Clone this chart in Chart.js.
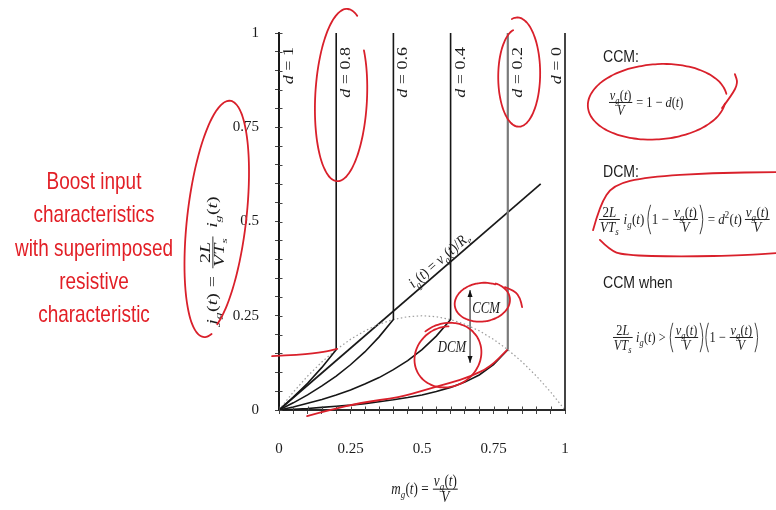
<!DOCTYPE html>
<html><head><meta charset="utf-8">
<script src="https://cdn.jsdelivr.net/npm/chart.js@4.4.1/dist/chart.umd.min.js"></script>
<style>html,body{margin:0;padding:0;background:#fff;overflow:hidden}canvas{display:block}</style>
</head><body>
<canvas id="c" width="776" height="510"></canvas>
<script>
// ---------- data ----------
const mGrid = [0, 0.05, 0.1, 0.15, 0.2, 0.25, 0.3, 0.35, 0.4, 0.45, 0.5, 0.55, 0.6, 0.65, 0.7, 0.75, 0.8, 0.85, 0.9, 0.95, 1];
const dutyCycles = [1, 0.8, 0.6, 0.4, 0.2, 0];
const dutyLabels = ['d = 1', 'd = 0.8', 'd = 0.6', 'd = 0.4', 'd = 0.2', 'd = 0'];
const jD1  = [0];
const jD08 = [0, 0.034, 0.071, 0.113, 0.16];
const jD06 = [0, 0.019, 0.04, 0.064, 0.09, 0.12, 0.154, 0.194, 0.24];
const jD04 = [0, 0.008, 0.018, 0.028, 0.04, 0.053, 0.069, 0.086, 0.107, 0.131, 0.16, 0.196, 0.24];
const jD02 = [0, 0.002, 0.004, 0.007, 0.01, 0.013, 0.017, 0.022, 0.027, 0.033, 0.04, 0.049, 0.06, 0.074, 0.093, 0.12, 0.16];
const jD0  = [0];
const jBoundary = [0, 0.0475, 0.09, 0.1275, 0.16, 0.1875, 0.21, 0.2275, 0.24, 0.2475, 0.25, 0.2475, 0.24, 0.2275, 0.21, 0.1875, 0.16, 0.1275, 0.09, 0.0475, 0];
const resistiveM = [0, 0.915];
const resistiveJ = [0, 0.6];
const tickLabels = ['0', '0.25', '0.5', '0.75', '1'];
const modeArrowM = 0.668;
const modeArrowJ = [0.222, 0.318, 0.125]; // start on boundary, CCM tip, DCM tip
const leftNote = ['Boost input', 'characteristics', 'with superimposed', 'resistive', 'characteristic'];

// hand-drawn red annotations, in chart units (m, j)
const redLoops = [
  {m:0.2203, j:0.8276, rm:0.0979, rj:0.2387, rot:3,   t0:-67,  t1:-398, k0:1.0,  k1:0.88},
  {m:0.8357, j:0.8886, rm:0.0822, rj:0.1538, rot:0,   t0:-105, t1:255,  k0:1.0,  k1:0.8},
  {m:-0.2168,j:0.5093, rm:0.1049, rj:0.3183, rot:6.5, t0:65,   t1:-285, k0:0.97, k1:1.0},
  {m:0.7098, j:0.2865, rm:0.0944, rj:0.0504, rot:-8,  t0:-55,  t1:-415, k0:1.0,  k1:1.05},
  {m:0.5874, j:0.1432, rm:0.1259, rj:0.0849, rot:-30, t0:-100, t1:300,  k0:1.02, k1:0.9},
  {m:1.3217, j:0.8170, rm:0.2448, rj:0.1008, rot:-4,  t0:10,   t1:355,  k0:0.98, k1:1.0}
];
const redStrokes = [
  [[0.790,0.326],[0.825,0.316],[0.843,0.297],[0.850,0.273]],
  [[1.549,0.801],[1.584,0.836],[1.605,0.867],[1.594,0.891]],
  [[-0.024,0.143],[0.073,0.146],[0.161,0.154],[0.203,0.162]],
  [[0.098,-0.016],[0.178,0.0],[0.283,0.019],[0.423,0.034],[0.510,0.053],[0.598,0.072],[0.668,0.088],[0.738,0.114],[0.797,0.159]],
  [[1.098,0.477],[1.122,0.544],[1.168,0.597],[1.287,0.618],[1.517,0.629],[1.738,0.631]],
  [[1.122,0.451],[1.157,0.424],[1.203,0.411],[1.402,0.406],[1.636,0.411],[1.738,0.416]]
];

// ---------- datasets ----------
const curveJ = [jD1, jD08, jD06, jD04, jD02, jD0];
const datasets = [];
dutyCycles.forEach((d, i) => {
  const js = curveJ[i];
  const endIdx = Math.round((1 - d) * 20);
  const off = endIdx - (js.length - 1);
  const pts = js.map((j, k) => ({x: mGrid[k + off], y: j}));
  pts.push({x: mGrid[endIdx], y: 1});
  const ds = {label: dutyLabels[i], data: pts, borderColor: '#161616', borderWidth: 1.6, pointRadius: 0, fill: false, clip: false, tension: 0};
  if (d === 0.2) ds.segment = {borderColor: c => c.p0.parsed.x === c.p1.parsed.x ? '#7a7a7a' : '#161616', borderWidth: c => c.p0.parsed.x === c.p1.parsed.x ? 2.2 : 1.6};
  datasets.push(ds);
});
datasets.push({label: 'boundary', data: jBoundary.map((j, k) => ({x: mGrid[k], y: j})), borderColor: '#9a9a9a', borderWidth: 1.2, borderDash: [1.5, 2.5], pointRadius: 0, clip: false});
datasets.push({label: 'resistive', data: resistiveM.map((m, k) => ({x: m, y: resistiveJ[k]})), borderColor: '#1a1a1a', borderWidth: 1.7, pointRadius: 0, clip: false});

// ---------- math text helper ----------
const SERIF = '"Liberation Serif", "Times New Roman", serif';
const I = s => ['i', s], R = s => ['r', s], SUB = s => ['sub', s], SUP = s => ['sup', s];
const FR = (a, b) => ['frac', a, b], P = a => ['paren', a], SP = k => ['sp', k];
function mrun(ctx, toks, x, y, S, draw) {
  let w = 0;
  for (const t of toks) {
    const k = t[0];
    if (k === 'i' || k === 'r') {
      ctx.font = (k === 'i' ? 'italic ' : '') + S + 'px ' + SERIF;
      if (draw) ctx.fillText(t[1], x + w, y);
      w += ctx.measureText(t[1]).width;
    } else if (k === 'sub' || k === 'sup') {
      const s = S * 0.68;
      ctx.font = (k === 'sub' ? 'italic ' : '') + s + 'px ' + SERIF;
      const dy = k === 'sub' ? 0.26 * S : -0.42 * S;
      if (draw) ctx.fillText(t[1], x + w, y + dy);
      w += ctx.measureText(t[1]).width + 0.4;
    } else if (k === 'frac') {
      const nw = mrun(ctx, t[1], 0, 0, S, false), dw = mrun(ctx, t[2], 0, 0, S, false);
      const fw = Math.max(nw, dw) + 0.3 * S;
      if (draw) {
        const axis = y - 0.3 * S;
        mrun(ctx, t[1], x + w + (fw - nw) / 2, axis - 0.18 * S, S, true);
        mrun(ctx, t[2], x + w + (fw - dw) / 2, axis + 0.8 * S, S, true);
        ctx.fillRect(x + w + 0.08 * S, axis - 0.035 * S, fw - 0.16 * S, Math.max(0.8, 0.065 * S));
      }
      w += fw;
    } else if (k === 'paren') {
      const pw = 0.42 * S;
      const iw = mrun(ctx, t[1], 0, 0, S, false);
      if (draw) {
        const axis = y - 0.3 * S, h = 0.98 * S;
        ctx.lineWidth = Math.max(0.8, 0.06 * S);
        const xl = x + w, xr = x + w + iw + 2 * pw;
        ctx.beginPath(); ctx.moveTo(xl + pw * 0.8, axis - h); ctx.quadraticCurveTo(xl - pw * 0.2, axis, xl + pw * 0.8, axis + h); ctx.stroke();
        ctx.beginPath(); ctx.moveTo(xr - pw * 0.8, axis - h); ctx.quadraticCurveTo(xr + pw * 0.2, axis, xr - pw * 0.8, axis + h); ctx.stroke();
        mrun(ctx, t[1], x + w + pw, y, S, true);
      }
      w += iw + 2 * pw;
    } else if (k === 'sp') {
      w += t[1] * S;
    }
  }
  return w;
}
function mathAt(ctx, toks, x, y, S, o) {
  o = o || {};
  ctx.save();
  ctx.translate(x, y); ctx.rotate(o.rot || 0); ctx.scale(o.sx || 1, o.sy || 1);
  ctx.textAlign = 'left'; ctx.textBaseline = 'alphabetic';
  ctx.fillStyle = o.color || '#1c1c1c'; ctx.strokeStyle = o.color || '#1c1c1c';
  const w = mrun(ctx, toks, 0, 0, S, false);
  const x0 = o.align === 'center' ? -w / 2 : (o.align === 'right' ? -w : 0);
  mrun(ctx, toks, x0, 0, S, true);
  ctx.restore();
}
function plainAt(ctx, str, x, y, font, o) {
  o = o || {};
  ctx.save(); ctx.translate(x, y); ctx.rotate(o.rot || 0); ctx.scale(o.sx || 1, o.sy || 1);
  ctx.font = font; ctx.fillStyle = o.color || '#1c1c1c'; ctx.textAlign = o.align || 'left'; ctx.textBaseline = 'alphabetic';
  ctx.fillText(str, 0, 0); ctx.restore();
}

const vgt = [I('v'), SUB('g'), R('('), I('t'), R(')')];
const igt = [I('i'), SUB('g'), R('('), I('t'), R(')')];
const jgt = [I('j'), SUB('g'), R('('), I('t'), R(')')];
const mgt = [I('m'), SUB('g'), R('('), I('t'), R(')')];
const twoL = [R('2'), I('L')];
const VTs = [I('V'), I('T'), SUB('s')];
const fracVg = FR(vgt, [I('V')]);
const eqCCM = [fracVg, R(' = 1 − '), I('d'), R('('), I('t'), R(')')];
const eqDCM = [FR(twoL, VTs), SP(0.2), ...igt, SP(0.15), P([R('1 − '), fracVg]), R(' = '), I('d'), SUP('2'), R('('), I('t'), R(')'), SP(0.15), fracVg];
const eqCCMwhen = [FR(twoL, VTs), SP(0.2), ...igt, R(' > '), P([fracVg]), P([R('1 − '), fracVg])];
const yTitle = [...jgt, SP(0.3), R('='), SP(0.3), FR(twoL, VTs), SP(0.35), ...igt];
const xTitle = [...mgt, R(' = '), fracVg];
const resLabel = [...igt, R(' = '), ...vgt, R('/'), I('R'), SUB('e')];

// ---------- plugin ----------
function px(ch, m, j) { return [ch.scales.x.getPixelForValue(m), ch.scales.y.getPixelForValue(j)]; }
function smooth(ctx, pts) {
  ctx.beginPath(); ctx.moveTo(pts[0][0], pts[0][1]);
  for (let i = 1; i < pts.length - 1; i++) {
    const mx = (pts[i][0] + pts[i + 1][0]) / 2, my = (pts[i][1] + pts[i + 1][1]) / 2;
    ctx.quadraticCurveTo(pts[i][0], pts[i][1], mx, my);
  }
  const l = pts[pts.length - 1]; ctx.lineTo(l[0], l[1]); ctx.stroke();
}
function loopPts(ch, e) {
  const [cx, cy] = px(ch, e.m, e.j);
  const rx = Math.abs(ch.scales.x.getPixelForValue(e.m + e.rm) - cx);
  const ry = Math.abs(ch.scales.y.getPixelForValue(e.j + e.rj) - cy);
  const r = e.rot * Math.PI / 180, pts = [], n = 90;
  for (let i = 0; i <= n; i++) {
    const u = i / n, t = (e.t0 + (e.t1 - e.t0) * u) * Math.PI / 180, k = e.k0 + (e.k1 - e.k0) * u;
    const lx = rx * k * Math.cos(t), ly = ry * k * Math.sin(t);
    pts.push([cx + lx * Math.cos(r) - ly * Math.sin(r), cy + lx * Math.sin(r) + ly * Math.cos(r)]);
  }
  return pts;
}
function arrow(ctx, x, y0, y1) {
  ctx.beginPath(); ctx.moveTo(x, y0); ctx.lineTo(x, y1); ctx.stroke();
  const s = y1 < y0 ? 1 : -1;
  ctx.beginPath(); ctx.moveTo(x, y1); ctx.lineTo(x - 2.5, y1 + s * 7); ctx.lineTo(x + 2.5, y1 + s * 7); ctx.closePath(); ctx.fill();
}

const decor = {
  id: 'decor',
  afterDatasetsDraw(ch) {
    const ctx = ch.ctx, xs = ch.scales.x, ys = ch.scales.y, ca = ch.chartArea;
    // inward halves of the tick marks
    ctx.save(); ctx.strokeStyle = '#444'; ctx.lineWidth = 1;
    xs.ticks.forEach(t => { const p = Math.round(xs.getPixelForValue(t.value)) + 0.5; ctx.beginPath(); ctx.moveTo(p, ca.bottom); ctx.lineTo(p, ca.bottom - 3.5); ctx.stroke(); });
    ys.ticks.forEach(t => { const p = Math.round(ys.getPixelForValue(t.value)) + 0.5; ctx.beginPath(); ctx.moveTo(ca.left, p); ctx.lineTo(ca.left + 3.5, p); ctx.stroke(); });
    ctx.restore();
    // duty-cycle labels
    dutyCycles.forEach((d, i) => {
      const lx = xs.getPixelForValue(1 - d) + (d === 0 ? -4 : 14);
      const toks = [I('d'), R(' = ' + dutyLabels[i].split('= ')[1])];
      mathAt(ctx, toks, lx, ca.top + 14, 18, {rot: -Math.PI / 2, sy: 0.78, align: 'right'});
    });
    // resistive label along the line
    const p0 = px(ch, resistiveM[0], resistiveJ[0]), p1 = px(ch, resistiveM[1], resistiveJ[1]);
    const ang = Math.atan2(p1[1] - p0[1], p1[0] - p0[0]);
    const mid = px(ch, 0.58, 0.58 * resistiveJ[1] / resistiveM[1]);
    mathAt(ctx, resLabel, mid[0] + 4 * Math.sin(ang), mid[1] - 4 * Math.cos(ang), 15, {rot: ang, sx: 0.9, align: 'center'});
    // CCM / DCM arrows
    ctx.save(); ctx.strokeStyle = '#111'; ctx.fillStyle = '#111'; ctx.lineWidth = 1;
    const ax = xs.getPixelForValue(modeArrowM);
    arrow(ctx, ax, ys.getPixelForValue(modeArrowJ[0]), ys.getPixelForValue(modeArrowJ[1]));
    arrow(ctx, ax, ys.getPixelForValue(modeArrowJ[0]), ys.getPixelForValue(modeArrowJ[2]));
    ctx.restore();
    const c1 = px(ch, 0.724, 0.257), c2 = px(ch, 0.605, 0.155);
    plainAt(ctx, 'CCM', c1[0], c1[1], 'italic 16px ' + SERIF, {sx: 0.8, align: 'center'});
    plainAt(ctx, 'DCM', c2[0], c2[1], 'italic 16px ' + SERIF, {sx: 0.8, align: 'center'});
  },
  afterDraw(ch) {
    const ctx = ch.ctx, ca = ch.chartArea;
    // axis titles
    mathAt(ctx, yTitle, ca.left - 62, (ca.top + ca.bottom) / 2 + 39, 20, {rot: -Math.PI / 2, sy: 0.68, align: 'center'});
    mathAt(ctx, xTitle, (ca.left + ca.right) / 2 + 3, ca.bottom + 84, 16, {sx: 0.82, align: 'center'});
    // left red note
    leftNote.forEach((s, i) => plainAt(ctx, s, 94, 189 + i * 33.3, '24px "Liberation Sans", Arial, sans-serif', {sx: 0.79, align: 'center', color: '#e21f26'}));
    // right side
    const rx = ca.right + 38;
    plainAt(ctx, 'CCM:', rx, 62, '16px "Liberation Sans", Arial, sans-serif', {sx: 0.88});
    mathAt(ctx, eqCCM, rx + 5, 107, 15, {sx: 0.82});
    plainAt(ctx, 'DCM:', rx, 177, '16px "Liberation Sans", Arial, sans-serif', {sx: 0.88});
    mathAt(ctx, eqDCM, rx - 5, 224, 15, {sx: 0.87});
    plainAt(ctx, 'CCM when', rx, 288, '16px "Liberation Sans", Arial, sans-serif', {sx: 0.88});
    mathAt(ctx, eqCCMwhen, rx + 9, 342, 15, {sx: 0.82});
    // red hand annotations
    ctx.save(); ctx.strokeStyle = '#d9202b'; ctx.lineWidth = 1.8; ctx.lineCap = 'round'; ctx.lineJoin = 'round';
    redLoops.forEach(e => smooth(ctx, loopPts(ch, e)));
    redStrokes.forEach(s => smooth(ctx, s.map(p => px(ch, p[0], p[1]))));
    ctx.restore();
  }
};

const tickCb = v => { const k = Math.round(v * 4); return Math.abs(v - k / 4) < 1e-6 ? tickLabels[k] : ''; };
new Chart(document.getElementById('c'), {
  type: 'line',
  data: {datasets},
  options: {
    responsive: false, animation: false, devicePixelRatio: 1, events: [],
    parsing: true,
    layout: {padding: {left: 219, right: 211, top: 33, bottom: 40}},
    plugins: {legend: {display: false}, tooltip: {enabled: false}},
    scales: {
      x: {type: 'linear', min: 0, max: 1, afterFit: s => { s.height = 60; },
        border: {display: true, color: '#2a2a2a', width: 2},
        grid: {display: true, drawOnChartArea: false, drawTicks: true, tickLength: 4, color: '#444', lineWidth: 1},
        ticks: {stepSize: 0.05, autoSkip: false, maxRotation: 0, minRotation: 0, padding: 26, color: '#1c1c1c', font: {family: '"Liberation Serif", serif', size: 15}, callback: tickCb}},
      y: {type: 'linear', min: 0, max: 1, afterFit: s => { s.width = 60; },
        border: {display: true, color: '#2a2a2a', width: 2},
        grid: {display: true, drawOnChartArea: false, drawTicks: true, tickLength: 4, color: '#444', lineWidth: 1},
        ticks: {stepSize: 0.05, autoSkip: false, padding: 16, color: '#1c1c1c', font: {family: '"Liberation Serif", serif', size: 15}, callback: tickCb}}
    }
  },
  plugins: [decor]
});
</script>
</body></html>
